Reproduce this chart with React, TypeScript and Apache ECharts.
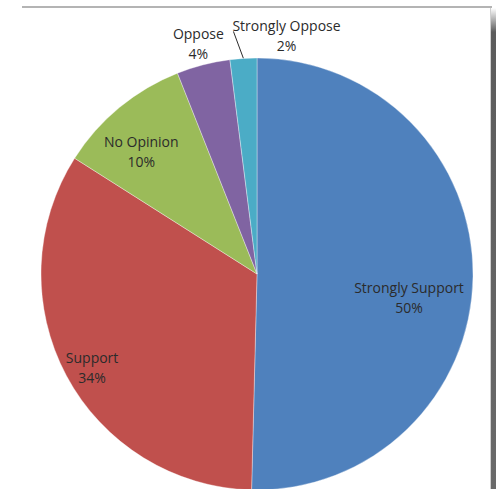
import React, { useEffect, useRef } from 'react';
import * as echarts from 'echarts';

// ---- data ----
const categories = ['Strongly Support', 'Support', 'No Opinion', 'Oppose', 'Strongly Oppose'];
const shares = [50.4, 33.6, 10, 4, 2];
const sliceColors = ['#4F81BD', '#C0504D', '#9BBB59', '#8064A2', '#4BACC6'];

// label nudges (style), relative to the library-computed label centre
const labelShift: [number, number][] = [
  [41, 22],
  [-67, 41],
  [-45, -37],
  [-31, -123],
  [0, 0],
];

export default function App() {
  const ref = useRef<HTMLDivElement>(null);

  useEffect(() => {
    if (!ref.current) return;
    const chart = echarts.init(ref.current, undefined, { renderer: 'svg' });
    const outsideIdx = categories.length - 1;

    chart.setOption({
      animation: false,
      backgroundColor: '#ffffff',
      graphic: [
        {
          type: 'line',
          shape: { x1: 22, y1: 7, x2: 492, y2: 7 },
          style: { stroke: '#b4b4b4', lineWidth: 2 },
          silent: true,
        },
        {
          type: 'rect',
          shape: { x: 490, y: 8, width: 1, height: 481 },
          style: { fill: '#cfcfcf' },
          silent: true,
        },
        {
          type: 'rect',
          shape: { x: 491, y: 8, width: 5, height: 481 },
          style: {
            fill: new echarts.graphic.LinearGradient(0, 0, 0, 1, [
              { offset: 0, color: '#ffffff' },
              { offset: 0.05, color: '#5c5c5c' },
              { offset: 1, color: '#6a6a6a' },
            ]),
          },
          silent: true,
        },
      ],
      series: [
        {
          type: 'pie',
          center: [257, 274],
          radius: 216,
          startAngle: 90,
          clockwise: true,
          avoidLabelOverlap: false,
          percentPrecision: 0,
          itemStyle: { borderColor: 'rgba(255,255,255,0.7)', borderWidth: 0.5 },
          label: {
            formatter: '{b}\n{d}%',
            fontFamily: 'Open Sans',
            fontSize: 14,
            lineHeight: 20,
            color: '#2b2b2b',
          },
          labelLine: {
            lineStyle: { color: '#2b2b2b', width: 1 },
          },
          labelLayout: (p: any) => {
            const r = p.labelRect;
            const i = p.dataIndex;
            if (i === outsideIdx && p.labelLinePoints) {
              const a = p.labelLinePoints[0];
              return {
                x: a[0] - 11 + r.width / 2,
                y: a[1] - 23,
                align: 'center',
                verticalAlign: 'middle',
                labelLinePoints: [
                  [a[0], a[1]],
                  [a[0] - 10, a[1] - 27],
                ],
              };
            }
            const s = labelShift[i];
            return {
              x: r.x + r.width / 2 + s[0],
              y: r.y + r.height / 2 + s[1],
              align: 'center',
              verticalAlign: 'middle',
            };
          },
          data: categories.map((name, i) => ({
            name,
            value: shares[i],
            itemStyle: { color: sliceColors[i] },
            label: { position: i === outsideIdx ? 'outside' : 'inside', show: true },
            labelLine: { show: i === outsideIdx, length: 15, length2: 0 },
          })),
        },
      ],
    });

    return () => chart.dispose();
  }, []);

  return (
    <div
      ref={ref}
      style={{ position: 'absolute', left: 0, top: 0, width: 496, height: 489 }}
    />
  );
}
